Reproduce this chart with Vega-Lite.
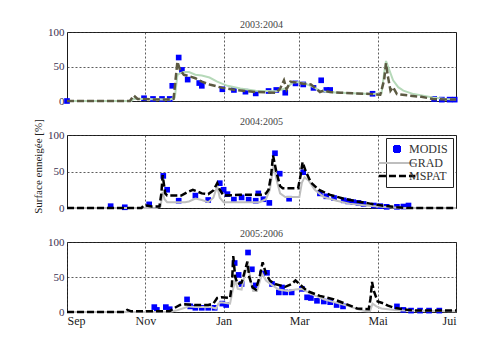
{
  "$schema": "https://vega.github.io/schema/vega-lite/v6.json",
  "padding": {"left": 32, "top": 19, "right": 5, "bottom": 5},
  "background": "white",
  "datasets": {
    "p1": [
      {"s":"MODIS","d":0,"v":0},{"s":"MODIS","d":60,"v":4},{"s":"MODIS","d":67,"v":3},{"s":"MODIS","d":74,"v":3},{"s":"MODIS","d":80,"v":3},{"s":"MODIS","d":82,"v":22},{"s":"MODIS","d":87,"v":63},{"s":"MODIS","d":89.5,"v":45},{"s":"MODIS","d":94,"v":31},{"s":"MODIS","d":103,"v":26},{"s":"MODIS","d":105,"v":22},{"s":"MODIS","d":121,"v":17},{"s":"MODIS","d":130,"v":16},{"s":"MODIS","d":139,"v":13.5},{"s":"MODIS","d":147,"v":11},{"s":"MODIS","d":157,"v":14.5},{"s":"MODIS","d":163,"v":16},{"s":"MODIS","d":170,"v":12},{"s":"MODIS","d":178,"v":25.5},{"s":"MODIS","d":184,"v":24},{"s":"MODIS","d":192,"v":19},{"s":"MODIS","d":198,"v":30},{"s":"MODIS","d":202,"v":16},{"s":"MODIS","d":205,"v":16},{"s":"MODIS","d":238,"v":10.5},{"s":"MODIS","d":286,"v":3},{"s":"MODIS","d":292,"v":2},{"s":"MODIS","d":298,"v":2},{"s":"MODIS","d":302,"v":2},
      {"s":"GRAD","d":0,"v":0},{"s":"GRAD","d":50,"v":0},{"s":"GRAD","d":52,"v":3},{"s":"GRAD","d":60,"v":3},{"s":"GRAD","d":80,"v":2},{"s":"GRAD","d":84,"v":5},{"s":"GRAD","d":86,"v":38},{"s":"GRAD","d":88,"v":40},{"s":"GRAD","d":91,"v":42},{"s":"GRAD","d":95,"v":42},{"s":"GRAD","d":100,"v":38},{"s":"GRAD","d":105,"v":37},{"s":"GRAD","d":111,"v":34},{"s":"GRAD","d":117,"v":28},{"s":"GRAD","d":125,"v":22},{"s":"GRAD","d":135,"v":18},{"s":"GRAD","d":147,"v":15},{"s":"GRAD","d":163,"v":14},{"s":"GRAD","d":170,"v":18},{"s":"GRAD","d":176,"v":27},{"s":"GRAD","d":180,"v":27},{"s":"GRAD","d":186,"v":25},{"s":"GRAD","d":192,"v":20},{"s":"GRAD","d":197,"v":15},{"s":"GRAD","d":202,"v":13},{"s":"GRAD","d":213,"v":12},{"s":"GRAD","d":237,"v":10},{"s":"GRAD","d":245,"v":11},{"s":"GRAD","d":247,"v":40},{"s":"GRAD","d":248.5,"v":58},{"s":"GRAD","d":251,"v":45},{"s":"GRAD","d":254,"v":30},{"s":"GRAD","d":258,"v":20},{"s":"GRAD","d":262,"v":15},{"s":"GRAD","d":270,"v":10},{"s":"GRAD","d":285,"v":5},{"s":"GRAD","d":295,"v":3},{"s":"GRAD","d":303,"v":2},
      {"s":"MSPAT","d":0,"v":0},{"s":"MSPAT","d":49,"v":0},{"s":"MSPAT","d":52,"v":8},{"s":"MSPAT","d":55,"v":3},{"s":"MSPAT","d":60,"v":3},{"s":"MSPAT","d":70,"v":2},{"s":"MSPAT","d":80,"v":2},{"s":"MSPAT","d":83,"v":3},{"s":"MSPAT","d":86,"v":57},{"s":"MSPAT","d":88,"v":45},{"s":"MSPAT","d":91,"v":38},{"s":"MSPAT","d":95,"v":36},{"s":"MSPAT","d":100,"v":33},{"s":"MSPAT","d":105,"v":28},{"s":"MSPAT","d":111,"v":24},{"s":"MSPAT","d":121,"v":19},{"s":"MSPAT","d":131,"v":16},{"s":"MSPAT","d":147,"v":13},{"s":"MSPAT","d":163,"v":12},{"s":"MSPAT","d":166,"v":18},{"s":"MSPAT","d":169,"v":30},{"s":"MSPAT","d":171,"v":17},{"s":"MSPAT","d":174,"v":28},{"s":"MSPAT","d":178,"v":27},{"s":"MSPAT","d":184,"v":25},{"s":"MSPAT","d":190,"v":24},{"s":"MSPAT","d":194,"v":18},{"s":"MSPAT","d":197,"v":13},{"s":"MSPAT","d":200,"v":15},{"s":"MSPAT","d":205,"v":13},{"s":"MSPAT","d":213,"v":12},{"s":"MSPAT","d":225,"v":11},{"s":"MSPAT","d":237,"v":10},{"s":"MSPAT","d":244,"v":9},{"s":"MSPAT","d":247,"v":30},{"s":"MSPAT","d":248.5,"v":55},{"s":"MSPAT","d":250,"v":35},{"s":"MSPAT","d":252,"v":15},{"s":"MSPAT","d":254,"v":20},{"s":"MSPAT","d":257,"v":10},{"s":"MSPAT","d":266,"v":8},{"s":"MSPAT","d":276,"v":6},{"s":"MSPAT","d":285,"v":3},{"s":"MSPAT","d":295,"v":2},{"s":"MSPAT","d":303,"v":2}
    ],
    "p2": [
      {"s":"MODIS","d":34,"v":2.5},{"s":"MODIS","d":45,"v":1},{"s":"MODIS","d":64,"v":5},{"s":"MODIS","d":75,"v":44},{"s":"MODIS","d":78,"v":25},{"s":"MODIS","d":87,"v":10},{"s":"MODIS","d":100,"v":17},{"s":"MODIS","d":110,"v":11},{"s":"MODIS","d":119,"v":34},{"s":"MODIS","d":122,"v":25},{"s":"MODIS","d":125,"v":19},{"s":"MODIS","d":130,"v":11.5},{"s":"MODIS","d":136,"v":14.5},{"s":"MODIS","d":141.5,"v":11.5},{"s":"MODIS","d":147,"v":10},{"s":"MODIS","d":149,"v":20},{"s":"MODIS","d":153,"v":12},{"s":"MODIS","d":157.6,"v":7},{"s":"MODIS","d":162,"v":75},{"s":"MODIS","d":165.7,"v":47},{"s":"MODIS","d":173,"v":12.7},{"s":"MODIS","d":184,"v":49},{"s":"MODIS","d":197,"v":20},{"s":"MODIS","d":202,"v":16},{"s":"MODIS","d":208,"v":13.7},{"s":"MODIS","d":215.5,"v":10.5},{"s":"MODIS","d":219,"v":9},{"s":"MODIS","d":223,"v":8},{"s":"MODIS","d":227,"v":7},{"s":"MODIS","d":231,"v":5.6},{"s":"MODIS","d":239,"v":3.4},{"s":"MODIS","d":244,"v":2.5},{"s":"MODIS","d":249,"v":1.6},{"s":"MODIS","d":257,"v":1.6},{"s":"MODIS","d":262,"v":2},{"s":"MODIS","d":266,"v":3.4},
      {"s":"GRAD","d":0,"v":0},{"s":"GRAD","d":70,"v":0},{"s":"GRAD","d":73,"v":3},{"s":"GRAD","d":74.5,"v":22},{"s":"GRAD","d":76,"v":12},{"s":"GRAD","d":78,"v":8},{"s":"GRAD","d":92,"v":8},{"s":"GRAD","d":95,"v":9},{"s":"GRAD","d":100,"v":13},{"s":"GRAD","d":105,"v":11},{"s":"GRAD","d":110,"v":8},{"s":"GRAD","d":114,"v":14},{"s":"GRAD","d":117,"v":30},{"s":"GRAD","d":119,"v":14},{"s":"GRAD","d":122,"v":8},{"s":"GRAD","d":150,"v":8},{"s":"GRAD","d":155,"v":12},{"s":"GRAD","d":158,"v":25},{"s":"GRAD","d":161,"v":60},{"s":"GRAD","d":163,"v":40},{"s":"GRAD","d":166,"v":20},{"s":"GRAD","d":170,"v":15},{"s":"GRAD","d":181,"v":15},{"s":"GRAD","d":183,"v":35},{"s":"GRAD","d":185,"v":42},{"s":"GRAD","d":188,"v":38},{"s":"GRAD","d":193,"v":25},{"s":"GRAD","d":200,"v":15},{"s":"GRAD","d":210,"v":10},{"s":"GRAD","d":220,"v":6},{"s":"GRAD","d":235,"v":3},{"s":"GRAD","d":250,"v":1},{"s":"GRAD","d":262,"v":0},{"s":"GRAD","d":303,"v":0},
      {"s":"MSPAT","d":0,"v":0},{"s":"MSPAT","d":58,"v":0},{"s":"MSPAT","d":60,"v":4},{"s":"MSPAT","d":63,"v":3},{"s":"MSPAT","d":66,"v":2},{"s":"MSPAT","d":72,"v":2},{"s":"MSPAT","d":73.5,"v":20},{"s":"MSPAT","d":74.5,"v":45},{"s":"MSPAT","d":76.5,"v":20},{"s":"MSPAT","d":78,"v":17},{"s":"MSPAT","d":89,"v":17},{"s":"MSPAT","d":94,"v":22},{"s":"MSPAT","d":98,"v":25},{"s":"MSPAT","d":101,"v":23},{"s":"MSPAT","d":105,"v":20},{"s":"MSPAT","d":110,"v":19},{"s":"MSPAT","d":114,"v":24},{"s":"MSPAT","d":117,"v":34},{"s":"MSPAT","d":119,"v":25},{"s":"MSPAT","d":122,"v":17},{"s":"MSPAT","d":135,"v":18},{"s":"MSPAT","d":152,"v":18},{"s":"MSPAT","d":155,"v":20},{"s":"MSPAT","d":157,"v":25},{"s":"MSPAT","d":159,"v":45},{"s":"MSPAT","d":160.5,"v":72},{"s":"MSPAT","d":163,"v":50},{"s":"MSPAT","d":166,"v":30},{"s":"MSPAT","d":168,"v":27},{"s":"MSPAT","d":180,"v":27},{"s":"MSPAT","d":182,"v":45},{"s":"MSPAT","d":183.5,"v":63},{"s":"MSPAT","d":186,"v":50},{"s":"MSPAT","d":190,"v":35},{"s":"MSPAT","d":196,"v":25},{"s":"MSPAT","d":205,"v":18},{"s":"MSPAT","d":215,"v":13},{"s":"MSPAT","d":226,"v":9},{"s":"MSPAT","d":236,"v":6},{"s":"MSPAT","d":247,"v":3},{"s":"MSPAT","d":257,"v":1},{"s":"MSPAT","d":265,"v":0},{"s":"MSPAT","d":303,"v":0}
    ],
    "p3": [
      {"s":"MODIS","d":68,"v":7},{"s":"MODIS","d":70,"v":3},{"s":"MODIS","d":77,"v":7},{"s":"MODIS","d":80,"v":4},{"s":"MODIS","d":93.5,"v":18},{"s":"MODIS","d":96,"v":8},{"s":"MODIS","d":100,"v":6},{"s":"MODIS","d":105,"v":6},{"s":"MODIS","d":110,"v":6},{"s":"MODIS","d":115,"v":6},{"s":"MODIS","d":121,"v":12},{"s":"MODIS","d":124,"v":10},{"s":"MODIS","d":130.6,"v":70},{"s":"MODIS","d":133.7,"v":53},{"s":"MODIS","d":136,"v":40},{"s":"MODIS","d":141,"v":85},{"s":"MODIS","d":144,"v":61},{"s":"MODIS","d":147,"v":38},{"s":"MODIS","d":152,"v":55},{"s":"MODIS","d":155.8,"v":56},{"s":"MODIS","d":159.7,"v":40},{"s":"MODIS","d":165,"v":28},{"s":"MODIS","d":167.5,"v":35},{"s":"MODIS","d":170,"v":28},{"s":"MODIS","d":175,"v":28},{"s":"MODIS","d":183,"v":33},{"s":"MODIS","d":187,"v":21},{"s":"MODIS","d":190,"v":20},{"s":"MODIS","d":194.7,"v":16},{"s":"MODIS","d":200,"v":15},{"s":"MODIS","d":205,"v":14},{"s":"MODIS","d":210,"v":10},{"s":"MODIS","d":215,"v":8},{"s":"MODIS","d":257,"v":8},{"s":"MODIS","d":262,"v":3},{"s":"MODIS","d":268,"v":2},{"s":"MODIS","d":275,"v":2},{"s":"MODIS","d":282,"v":2},{"s":"MODIS","d":290,"v":2},
      {"s":"GRAD","d":0,"v":0},{"s":"GRAD","d":80,"v":0},{"s":"GRAD","d":85,"v":2},{"s":"GRAD","d":90,"v":5},{"s":"GRAD","d":95,"v":8},{"s":"GRAD","d":100,"v":7},{"s":"GRAD","d":112,"v":7},{"s":"GRAD","d":116,"v":5},{"s":"GRAD","d":118,"v":12},{"s":"GRAD","d":120,"v":14},{"s":"GRAD","d":127,"v":12},{"s":"GRAD","d":129,"v":30},{"s":"GRAD","d":131,"v":45},{"s":"GRAD","d":133,"v":33},{"s":"GRAD","d":136,"v":32},{"s":"GRAD","d":138,"v":50},{"s":"GRAD","d":141,"v":70},{"s":"GRAD","d":143,"v":45},{"s":"GRAD","d":145,"v":30},{"s":"GRAD","d":148,"v":30},{"s":"GRAD","d":152,"v":55},{"s":"GRAD","d":155,"v":45},{"s":"GRAD","d":160,"v":38},{"s":"GRAD","d":165,"v":32},{"s":"GRAD","d":172,"v":30},{"s":"GRAD","d":178,"v":32},{"s":"GRAD","d":183,"v":33},{"s":"GRAD","d":190,"v":26},{"s":"GRAD","d":200,"v":18},{"s":"GRAD","d":210,"v":13},{"s":"GRAD","d":220,"v":8},{"s":"GRAD","d":228,"v":3},{"s":"GRAD","d":233,"v":1},{"s":"GRAD","d":236,"v":1},{"s":"GRAD","d":238,"v":12},{"s":"GRAD","d":241,"v":8},{"s":"GRAD","d":245,"v":5},{"s":"GRAD","d":255,"v":3},{"s":"GRAD","d":262,"v":2},{"s":"GRAD","d":303,"v":1},
      {"s":"MSPAT","d":0,"v":0},{"s":"MSPAT","d":45,"v":0},{"s":"MSPAT","d":47,"v":3},{"s":"MSPAT","d":50,"v":1},{"s":"MSPAT","d":80,"v":1},{"s":"MSPAT","d":83,"v":5},{"s":"MSPAT","d":88,"v":10},{"s":"MSPAT","d":92,"v":11},{"s":"MSPAT","d":100,"v":10},{"s":"MSPAT","d":110,"v":10},{"s":"MSPAT","d":114,"v":12},{"s":"MSPAT","d":117,"v":20},{"s":"MSPAT","d":120,"v":21},{"s":"MSPAT","d":127,"v":20},{"s":"MSPAT","d":128.5,"v":40},{"s":"MSPAT","d":129.5,"v":80},{"s":"MSPAT","d":131,"v":50},{"s":"MSPAT","d":133,"v":40},{"s":"MSPAT","d":136,"v":42},{"s":"MSPAT","d":138,"v":55},{"s":"MSPAT","d":140.5,"v":72},{"s":"MSPAT","d":142,"v":50},{"s":"MSPAT","d":144.5,"v":35},{"s":"MSPAT","d":147,"v":32},{"s":"MSPAT","d":150,"v":50},{"s":"MSPAT","d":152.4,"v":71},{"s":"MSPAT","d":155,"v":55},{"s":"MSPAT","d":158,"v":45},{"s":"MSPAT","d":162,"v":40},{"s":"MSPAT","d":166,"v":38},{"s":"MSPAT","d":170,"v":36},{"s":"MSPAT","d":175,"v":40},{"s":"MSPAT","d":178,"v":45},{"s":"MSPAT","d":181,"v":40},{"s":"MSPAT","d":187,"v":30},{"s":"MSPAT","d":197,"v":23},{"s":"MSPAT","d":208,"v":18},{"s":"MSPAT","d":218,"v":11},{"s":"MSPAT","d":226,"v":5},{"s":"MSPAT","d":235,"v":4},{"s":"MSPAT","d":236.5,"v":20},{"s":"MSPAT","d":237.6,"v":43},{"s":"MSPAT","d":239,"v":30},{"s":"MSPAT","d":242,"v":15},{"s":"MSPAT","d":247,"v":12},{"s":"MSPAT","d":250,"v":9},{"s":"MSPAT","d":255,"v":6},{"s":"MSPAT","d":262,"v":4},{"s":"MSPAT","d":270,"v":2},{"s":"MSPAT","d":303,"v":2}
    ]
  },
  "config": {
    "font": "Liberation Serif",
    "view": {"stroke": "#1a1a1a", "strokeWidth": 1},
    "axis": {"labelFont": "Liberation Serif", "labelFontSize": 11, "labelColor": "#3a3050", "domain": false, "ticks": false, "grid": true, "gridDash": [2, 2], "gridColor": "#333333", "gridWidth": 0.8, "gridOpacity": 1, "labelPadding": 3, "titleFont": "Liberation Serif", "titleFontWeight": "normal", "titleFontSize": 11, "titleColor": "#222222"},
    "title": {"font": "Liberation Serif", "fontSize": 10, "fontWeight": "normal", "color": "#444444", "offset": 5}
  },
  "bounds": "flush",
  "spacing": 34,
  "resolve": {"scale": {"color": "independent"}, "legend": {"color": "independent"}},
  "vconcat": [
    {
      "width": 389, "height": 69,
      "title": {"text": "2003:2004", "offset": -4},
      "data": {"name": "p1"},
      "encoding": {
        "x": {"field": "d", "type": "quantitative", "scale": {"domain": [0, 303], "nice": false, "zero": false}, "axis": {"values": [61, 122, 181, 242], "labels": false, "title": null}},
        "y": {"field": "v", "type": "quantitative", "scale": {"domain": [0, 100], "nice": false}, "axis": {"values": [0, 50, 100], "title": null}}
      },
      "layer": [
        {"transform": [{"filter": "datum.s === 'MODIS'"}], "mark": {"type": "square", "filled": true, "size": 32, "color": "#0000ff", "opacity": 1}},
        {"transform": [{"filter": "datum.s === 'GRAD'"}], "mark": {"type": "line", "color": "#b6d9b9", "strokeWidth": 2}},
        {"transform": [{"filter": "datum.s === 'MSPAT'"}], "mark": {"type": "line", "color": "#5c5a42", "strokeWidth": 2.5, "strokeDash": [7, 3]}}
      ]
    },
    {
      "width": 389, "height": 73,
      "title": {"text": "2004:2005", "offset": -8},
      "data": {"name": "p2"},
      "encoding": {
        "x": {"field": "d", "type": "quantitative", "scale": {"domain": [0, 303], "nice": false, "zero": false}, "axis": {"values": [61, 122, 181, 242], "labels": false, "title": null}},
        "y": {"field": "v", "type": "quantitative", "scale": {"domain": [0, 100], "nice": false}, "axis": {"values": [0, 50, 100], "title": "Surface enneigée [%]", "titlePadding": 4, "titleY": 31}},
        "color": {"field": "s", "type": "nominal", "scale": {"domain": ["MODIS", "GRAD", "MSPAT"], "range": ["#0000ff", "#bebebe", "#000000"]},
          "legend": {"title": null, "orient": "top-right", "offset": 3, "fillColor": "white", "strokeColor": "#222222", "padding": 5, "labelFont": "Liberation Serif", "labelFontSize": 12, "labelColor": "#333333", "symbolSize": 1500, "rowPadding": 1, "labelOffset": 6,
            "encode": {"symbols": {"update": {
              "shape": {"signal": "datum.value === 'MODIS' ? 'square' : 'stroke'"},
              "size": {"signal": "datum.value === 'MODIS' ? 36 : 1300"},
              "fill": {"signal": "datum.value === 'MODIS' ? '#0000ff' : 'transparent'"},
              "stroke": {"signal": "datum.value === 'MODIS' ? 'transparent' : (datum.value === 'GRAD' ? '#bebebe' : '#000000')"},
              "strokeWidth": {"signal": "datum.value === 'MSPAT' ? 2.5 : 2"},
              "strokeDash": {"signal": "datum.value === 'MSPAT' ? [7, 3] : [1, 0]"},
              "opacity": {"value": 1}
            }}}}}
      },
      "layer": [
        {"transform": [{"filter": "datum.s === 'MODIS'"}], "mark": {"type": "square", "filled": true, "size": 32, "opacity": 1}},
        {"transform": [{"filter": "datum.s === 'GRAD'"}], "mark": {"type": "line", "strokeWidth": 2}},
        {"transform": [{"filter": "datum.s === 'MSPAT'"}], "mark": {"type": "line", "strokeWidth": 2.5, "strokeDash": [7, 3]}}
      ]
    },
    {
      "width": 389, "height": 70,
      "title": {"text": "2005:2006", "offset": -3},
      "data": {"name": "p3"},
      "encoding": {
        "x": {"field": "d", "type": "quantitative", "scale": {"domain": [0, 303], "nice": false, "zero": false}, "axis": {"values": [0, 61, 122, 181, 242, 303], "title": null, "labelFontSize": 12, "labelColor": "#1a1a1a", "labelExpr": "datum.value == 0 ? 'Sep' : datum.value == 61 ? 'Nov' : datum.value == 122 ? 'Jan' : datum.value == 181 ? 'Mar' : datum.value == 242 ? 'Mai' : 'Jui'"}},
        "y": {"field": "v", "type": "quantitative", "scale": {"domain": [0, 100], "nice": false}, "axis": {"values": [0, 50, 100], "title": null}}
      },
      "layer": [
        {"transform": [{"filter": "datum.s === 'MODIS'"}], "mark": {"type": "square", "filled": true, "size": 32, "color": "#0000ff", "opacity": 1}},
        {"transform": [{"filter": "datum.s === 'GRAD'"}], "mark": {"type": "line", "color": "#c4c4c4", "strokeWidth": 2}},
        {"transform": [{"filter": "datum.s === 'MSPAT'"}], "mark": {"type": "line", "color": "#000000", "strokeWidth": 2.5, "strokeDash": [7, 3]}}
      ]
    }
  ]
}
